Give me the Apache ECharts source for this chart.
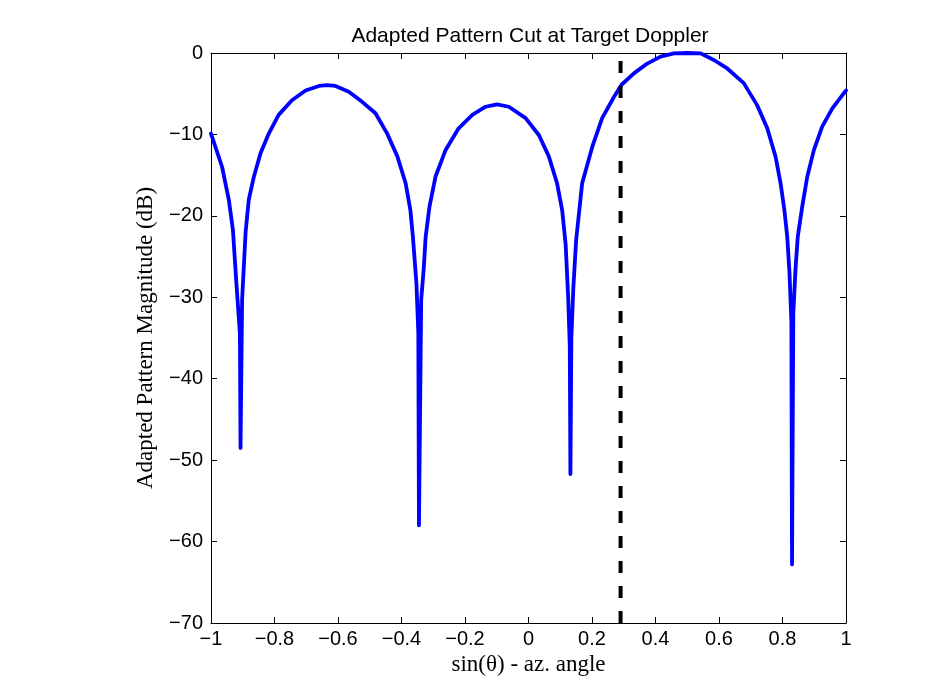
<!DOCTYPE html>
<html>
<head>
<meta charset="utf-8">
<script src="https://cdn.jsdelivr.net/npm/echarts@6/dist/echarts.min.js"></script>
<style>html,body{margin:0;padding:0;background:#fff;}#c{width:934px;height:700px;}</style>
</head>
<body>
<div id="c"></div>
<script>
// Data
var sinTheta = [-1.0,-0.965,-0.944,-0.931,-0.920,-0.909,-0.907,-0.902,-0.891,-0.881,-0.865,-0.844,-0.818,-0.787,-0.745,-0.702,-0.660,-0.634,-0.608,-0.566,-0.524,-0.482,-0.445,-0.413,-0.387,-0.372,-0.364,-0.353,-0.347,-0.345,-0.338,-0.330,-0.324,-0.312,-0.293,-0.261,-0.220,-0.177,-0.135,-0.099,-0.062,-0.009,0.033,0.064,0.090,0.106,0.117,0.125,0.130,0.132,0.135,0.141,0.150,0.169,0.201,0.232,0.269,0.293,0.332,0.374,0.416,0.458,0.500,0.542,0.584,0.626,0.678,0.720,0.752,0.778,0.794,0.806,0.815,0.822,0.828,0.830,0.834,0.841,0.848,0.862,0.878,0.899,0.925,0.957,0.988,1.0];
var magnitudeDb = [-9.9,-14.0,-18.0,-21.7,-28.3,-34.4,-48.5,-30.3,-22.0,-18.0,-15.2,-12.3,-9.9,-7.6,-5.8,-4.6,-4.05,-3.95,-4.05,-4.75,-6.0,-7.4,-9.9,-12.7,-16.0,-19.3,-22.6,-28.3,-34.4,-58.0,-30.3,-26.5,-22.6,-18.9,-15.2,-11.9,-9.25,-7.6,-6.6,-6.3,-6.6,-8.0,-10.1,-12.7,-16.0,-19.3,-23.5,-30.0,-36.0,-51.7,-35.0,-29.0,-23.0,-16.0,-11.5,-8.0,-5.4,-3.9,-2.5,-1.3,-0.45,-0.05,0.0,-0.05,-0.86,-1.9,-3.7,-6.4,-9.25,-12.7,-16.0,-19.3,-22.6,-27.0,-33.0,-62.8,-32.0,-26.5,-22.6,-18.9,-15.2,-11.9,-9.05,-6.8,-5.2,-4.6];
var targetX = [0.29, 0.29];
var targetY = [-70, 0];
var xTicks = {min: -1, max: 1, interval: 0.2};
var yTicks = {min: -70, max: 0, interval: 10};

var pattern = sinTheta.map(function (x, i) { return [x, magnitudeDb[i]]; });
var target = targetX.map(function (x, i) { return [x, targetY[i]]; });

function fmt(v) { return String(+(+v).toFixed(1)).replace('-', '\u2212'); }

var tickFont = {fontFamily: 'Liberation Sans, Arial, sans-serif', fontSize: 20, color: '#000'};
var nameFont = {fontFamily: 'Liberation Serif, Times New Roman, serif', fontSize: 23, color: '#000'};

var chart = echarts.init(document.getElementById('c'));
chart.setOption({
  animation: false,
  backgroundColor: '#fff',
  title: {
    text: 'Adapted Pattern Cut at Target Doppler',
    left: 525, top: 21, textAlign: 'center',
    textStyle: {fontFamily: 'Liberation Sans, Arial, sans-serif', fontSize: 21, fontWeight: 'normal', color: '#000'}
  },
  grid: {left: 211, right: 88, top: 53, bottom: 77, containLabel: false},
  xAxis: [{
    type: 'value', position: 'bottom', min: xTicks.min, max: xTicks.max, interval: xTicks.interval,
    name: 'sin(\u03b8) - az. angle', nameLocation: 'middle', nameGap: 30,
    nameTextStyle: nameFont,
    axisLine: {show: true, onZero: false, lineStyle: {color: '#000', width: 1}},
    axisTick: {show: true, inside: true, length: 6, lineStyle: {color: '#000'}},
    axisLabel: Object.assign({margin: 6, formatter: fmt}, tickFont),
    splitLine: {show: false}
  }, {
    type: 'value', position: 'top', min: xTicks.min, max: xTicks.max, interval: xTicks.interval,
    axisLine: {show: true, onZero: false, lineStyle: {color: '#000', width: 1}},
    axisTick: {show: true, inside: true, length: 6, lineStyle: {color: '#000'}},
    axisLabel: {show: false}, splitLine: {show: false}
  }],
  yAxis: [{
    type: 'value', position: 'left', min: yTicks.min, max: yTicks.max, interval: yTicks.interval,
    name: 'Adapted Pattern Magnitude (dB)', nameLocation: 'middle', nameGap: 54,
    nameTextStyle: nameFont,
    axisLine: {show: true, onZero: false, lineStyle: {color: '#000', width: 1}},
    axisTick: {show: true, inside: true, length: 6, lineStyle: {color: '#000'}},
    axisLabel: Object.assign({margin: 8, formatter: fmt}, tickFont),
    splitLine: {show: false}
  }, {
    type: 'value', position: 'right', min: yTicks.min, max: yTicks.max, interval: yTicks.interval,
    axisLine: {show: true, onZero: false, lineStyle: {color: '#000', width: 1}},
    axisTick: {show: true, inside: true, length: 6, lineStyle: {color: '#000'}},
    axisLabel: {show: false}, splitLine: {show: false}
  }],
  series: [{
    type: 'line', data: pattern, xAxisIndex: 0, yAxisIndex: 0,
    showSymbol: false, symbol: 'none', smooth: false, clip: true,
    lineStyle: {color: '#0000ff', width: 3.8, join: 'round', cap: 'round'}
  }, {
    type: 'line', data: target, xAxisIndex: 0, yAxisIndex: 0,
    showSymbol: false, symbol: 'none',
    lineStyle: {color: '#000', width: 4, type: [12, 13]}
  }]
});
</script>
</body>
</html>
